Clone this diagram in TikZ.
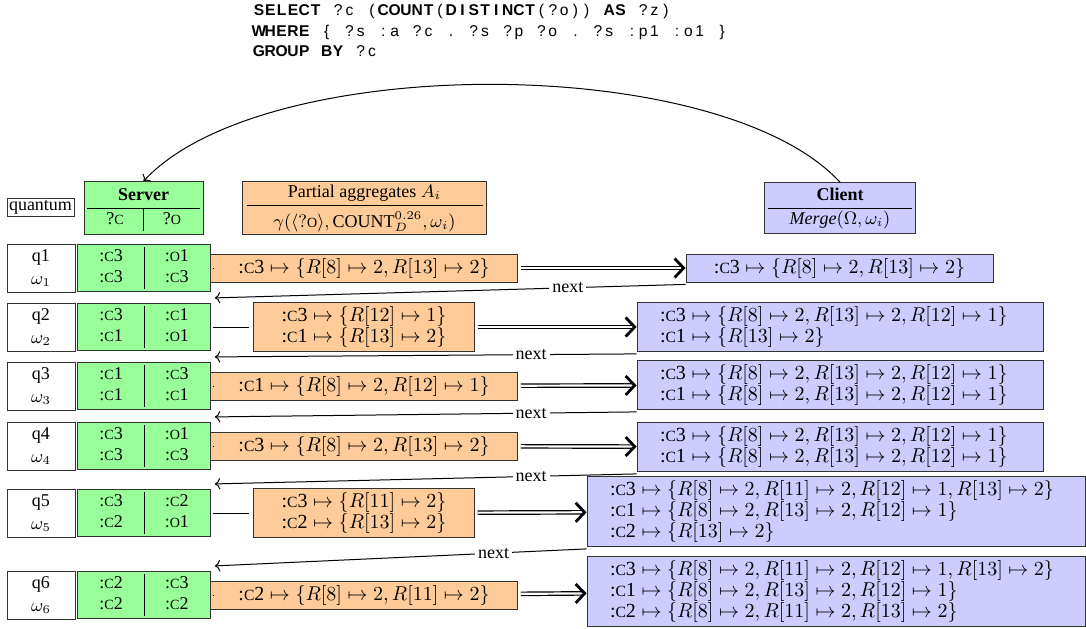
\documentclass[tikz,border=0pt]{standalone}
\usepackage{fontspec}
\setmainfont{Liberation Serif}
\newfontfamily\qfont{Liberation Sans}
\usepackage{array}
\usetikzlibrary{arrows.meta}

\definecolor{srvgreen}{HTML}{99FF99}
\definecolor{aggorange}{HTML}{FFCC99}
\definecolor{cliblue}{HTML}{CCCCFF}

% small capitals for the resources
\newcommand\smc[1]{\scalebox{0.78}{\MakeUppercase{#1}}}
\newcommand\res[2]{\mbox{:\smc{#1}#2}}
\newcommand\qv[1]{?\smc{#1}}
\newcommand\srvrows[4]{\renewcommand\arraystretch{0.9}%
  \begin{tabular}{wc{20.5pt}|wc{20.5pt}}#1 & #2\\ #3 & #4\end{tabular}}
% fixed columns for the query
\def\endcols{\endcols}
\newcommand\cols[1]{\colsloop#1\endcols}
\def\colsloop#1{\ifx#1\endcols\else\makebox[5.65pt]{#1}\expandafter\colsloop\fi}
\newcommand\kw[1]{\textbf{\cols{#1}}}

\begin{document}
\begin{tikzpicture}[x=0.5pt,y=-0.5pt,
    txt/.style={font=\fontsize{9}{11.5}\selectfont},
    qbox/.style={txt,draw=black!80,fill=white,align=center,inner sep=1pt},
    srvbox/.style={txt,draw=black!80,fill=srvgreen,inner xsep=0.5pt,inner ysep=1.5pt},
    aggbox/.style={draw=black!80,fill=aggorange,align=center,inner xsep=14pt,inner ysep=2pt,
      font=\fontsize{10}{10.5}\selectfont},
    clibox/.style={draw=black!80,fill=cliblue,align=left,inner xsep=11.5pt,inner ysep=2pt,
      font=\fontsize{10}{10.5}\selectfont},
    link/.style={shorten <=1pt,shorten >=2pt},
    dbl/.style={draw=white,line width=1.1pt,shorten <=1.5pt,
      -{Straight Barb[color=black,length=4.5pt,width=9.5pt,line width=1.4pt 0 0]},
      preaction={draw=black,line width=2.3pt,-,shorten <=1.5pt,shorten >=1.5pt}},
    nextarr/.style={->,line width=0.5pt},
    nextlbl/.style={txt,pos=0.25,fill=white,inner sep=1.5pt}]
    \useasboundingbox (0,0) rectangle (1086,628);

    % query
    \node[anchor=north west,inner sep=0pt,align=left,
        font=\qfont\fontsize{7.8}{10.25}\selectfont] (query) at (253,4)
        {\kw{SELECT}\cols{~?c~(}\kw{COUNT}\cols{(}\kw{DISTINCT}\cols{(?o))~}\kw{AS}\cols{~?z)}\\
         \kw{WHERE}\cols{~\{~?s~:a~?c~.~?s~?p~?o~.~?s~:p1~:o1~\}}\\
         \kw{GROUP}\cols{~}\kw{BY}\cols{~?c}};

    % header
    \node[qbox] (qh) at (40.5,207.5) {quantum};
    \node[srvbox,inner xsep=1.5pt] (sh) at (143.5,208)
        {\begin{tabular}{wc{16pt}|wc{16pt}}\multicolumn{2}{c}{\textbf{Server}}\\\hline \qv{c} & \qv{o}\end{tabular}};
    \node[txt,draw=black!80,fill=aggorange,inner xsep=2pt,inner ysep=0pt] (ah) at (364.5,208)
        {\begin{tabular}{wc{106pt}}Partial aggregates $A_i$\\\hline
         \rule{0pt}{11pt}$\gamma(\langle\qv{o}\rangle, \mathrm{COUNT}^{0.26}_{D}, \omega_i)$\end{tabular}};
    \node[txt,draw=black!80,fill=cliblue,inner xsep=1.75pt,inner ysep=1pt] (ch) at (840,208)
        {\begin{tabular}{wc{60pt}}\textbf{Client}\\\hline $\mathit{Merge}(\Omega, \omega_i)$\end{tabular}};

    % rows
    \node[qbox,minimum width=34pt,minimum height=24pt] (q1) at (41,268) {q1\\$\omega_1$};
    \node[qbox,minimum width=34pt,minimum height=24pt] (q2) at (41,327) {q2\\$\omega_2$};
    \node[qbox,minimum width=34pt,minimum height=24pt] (q3) at (41,386) {q3\\$\omega_3$};
    \node[qbox,minimum width=34pt,minimum height=24pt] (q4) at (41,446) {q4\\$\omega_4$};
    \node[qbox,minimum width=34pt,minimum height=24pt] (q5) at (41,513) {q5\\$\omega_5$};
    \node[qbox,minimum width=34pt,minimum height=24pt] (q6) at (41,595) {q6\\$\omega_6$};

    \node[srvbox] (s1) at (144,268) {\srvrows{\res{c}{3}}{\res{o}{1}}{\res{c}{3}}{\res{c}{3}}};
    \node[srvbox] (s2) at (144,327) {\srvrows{\res{c}{3}}{\res{c}{1}}{\res{c}{1}}{\res{o}{1}}};
    \node[srvbox] (s3) at (144,386) {\srvrows{\res{c}{1}}{\res{c}{3}}{\res{c}{1}}{\res{c}{1}}};
    \node[srvbox] (s4) at (144,446) {\srvrows{\res{c}{3}}{\res{o}{1}}{\res{c}{3}}{\res{c}{3}}};
    \node[srvbox] (s5) at (144,513) {\srvrows{\res{c}{3}}{\res{c}{2}}{\res{c}{2}}{\res{o}{1}}};
    \node[srvbox] (s6) at (144,595) {\srvrows{\res{c}{2}}{\res{c}{3}}{\res{c}{2}}{\res{c}{2}}};

    \node[aggbox] (a1) at (364,268) {$\res{c}{3}\mapsto\{R[8]\mapsto 2, R[13]\mapsto 2\}$};
    \node[aggbox] (a2) at (364,327) {$\res{c}{3}\mapsto\{R[12]\mapsto 1\}$\\$\res{c}{1}\mapsto\{R[13]\mapsto 2\}$};
    \node[aggbox] (a3) at (364,386) {$\res{c}{1}\mapsto\{R[8]\mapsto 2, R[12]\mapsto 1\}$};
    \node[aggbox] (a4) at (364,446) {$\res{c}{3}\mapsto\{R[8]\mapsto 2, R[13]\mapsto 2\}$};
    \node[aggbox] (a5) at (364,513) {$\res{c}{3}\mapsto\{R[11]\mapsto 2\}$\\$\res{c}{2}\mapsto\{R[13]\mapsto 2\}$};
    \node[aggbox] (a6) at (364,595) {$\res{c}{2}\mapsto\{R[8]\mapsto 2, R[11]\mapsto 2\}$};

    \node[clibox,inner xsep=14pt] (c1) at (839.5,268) {$\res{c}{3}\mapsto\{R[8]\mapsto 2, R[13]\mapsto 2\}$};
    \node[clibox,text width=180pt] (c2) at (840,327)
        {$\res{c}{3}\mapsto\{R[8]\mapsto 2, R[13]\mapsto 2, R[12]\mapsto 1\}$\\
         $\res{c}{1}\mapsto\{R[13]\mapsto 2\}$};
    \node[clibox,text width=180pt] (c3) at (840,385)
        {$\res{c}{3}\mapsto\{R[8]\mapsto 2, R[13]\mapsto 2, R[12]\mapsto 1\}$\\
         $\res{c}{1}\mapsto\{R[8]\mapsto 2, R[13]\mapsto 2, R[12]\mapsto 1\}$};
    \node[clibox,text width=180pt] (c4) at (840,447)
        {$\res{c}{3}\mapsto\{R[8]\mapsto 2, R[13]\mapsto 2, R[12]\mapsto 1\}$\\
         $\res{c}{1}\mapsto\{R[8]\mapsto 2, R[13]\mapsto 2, R[12]\mapsto 1\}$};
    \node[clibox,text width=226pt] (c5) at (836,511.5)
        {$\res{c}{3}\mapsto\{R[8]\mapsto 2, R[11]\mapsto 2, R[12]\mapsto 1, R[13]\mapsto 2\}$\\
         $\res{c}{1}\mapsto\{R[8]\mapsto 2, R[13]\mapsto 2, R[12]\mapsto 1\}$\\
         $\res{c}{2}\mapsto\{R[13]\mapsto 2\}$};
    \node[clibox,text width=226pt] (c6) at (836,591.5)
        {$\res{c}{3}\mapsto\{R[8]\mapsto 2, R[11]\mapsto 2, R[12]\mapsto 1, R[13]\mapsto 2\}$\\
         $\res{c}{1}\mapsto\{R[8]\mapsto 2, R[13]\mapsto 2, R[12]\mapsto 1\}$\\
         $\res{c}{2}\mapsto\{R[8]\mapsto 2, R[11]\mapsto 2, R[13]\mapsto 2\}$};

    % connectors
    \draw[->,line width=0.5pt] (ch.north) .. controls (720,52) and (263,52) .. (sh.north);

    \draw[link] (s1) -- (a1);
    \draw[link] (s2) -- (a2);
    \draw[link] (s3) -- (a3);
    \draw[link] (s4) -- (a4);
    \draw[link] (s5) -- (a5);
    \draw[link] (s6) -- (a6);

    \draw[dbl] (a1) -- (c1);
    \draw[dbl] (a2) -- (c2);
    \draw[dbl] (a3) -- (c3);
    \draw[dbl] (a4) -- (c4);
    \draw[dbl] (a5) -- (c5);
    \draw[dbl] (a6) -- (c6);

    \draw[nextarr] ([yshift=-1pt]c1.south west) -- ([xshift=2pt,yshift=2.5pt]s2.north east) node[nextlbl] {next};
    \draw[nextarr] ([yshift=-1pt]c2.south west) -- ([xshift=2pt,yshift=2.5pt]s3.north east) node[nextlbl] {next};
    \draw[nextarr] ([yshift=-1pt]c3.south west) -- ([xshift=2pt,yshift=2.5pt]s4.north east) node[nextlbl] {next};
    \draw[nextarr] ([yshift=-1pt]c4.south west) -- ([xshift=2pt,yshift=2.5pt]s5.north east) node[nextlbl] {next};
    \draw[nextarr] ([yshift=-1pt]c5.south west) -- ([xshift=2pt,yshift=2.5pt]s6.north east) node[nextlbl] {next};
\end{tikzpicture}
\end{document}
